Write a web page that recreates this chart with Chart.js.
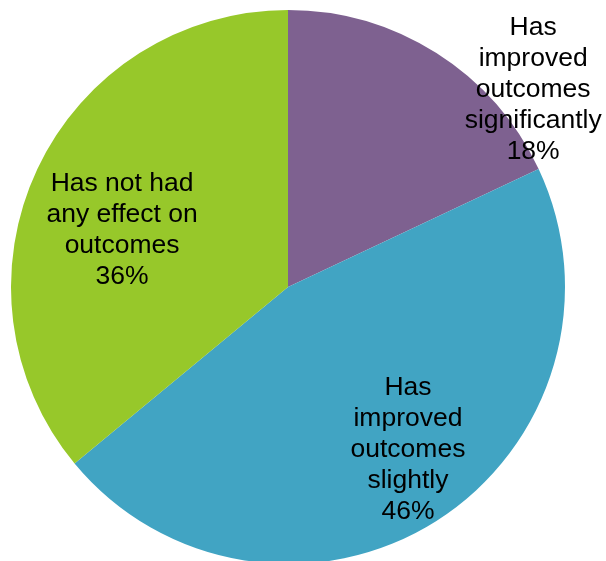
<!DOCTYPE html>
<html>
<head>
<meta charset="utf-8">
<script src="https://cdn.jsdelivr.net/npm/chart.js@4/dist/chart.umd.min.js"></script>
<style>
  html, body { margin: 0; padding: 0; background: #ffffff; overflow: hidden; width: 606px; height: 561px; }
  #wrap { position: absolute; left: 0; top: 0; width: 606px; height: 574px; }
</style>
</head>
<body>
<div id="wrap"><canvas id="chart" width="606" height="574"></canvas></div>
<script>
// Survey responses: effect on outcomes
const categories = [
  ["Has", "improved", "outcomes", "significantly"],
  ["Has", "improved", "outcomes", "slightly"],
  ["Has not had", "any effect on", "outcomes"]
];
const shares = [18, 46, 36];
const sliceColors = ["#7E6190", "#41A4C3", "#97C82A"];

// Label block centres, as fractions of the radius from the pie centre
const labelAnchors = [
  { dx: 0.885, dy: -0.711 },
  { dx: 0.433, dy: 0.588 },
  { dx: -0.599, dy: -0.206 }
];

const sliceLabels = {
  id: "sliceLabels",
  afterDatasetsDraw(chart) {
    const ctx = chart.ctx;
    const meta = chart.getDatasetMeta(0);
    const fontSize = 26.5;
    const lineH = 31;
    ctx.save();
    ctx.font = fontSize + "px 'Liberation Sans', Arial, sans-serif";
    ctx.fillStyle = "#000000";
    ctx.textAlign = "center";
    ctx.textBaseline = "middle";
    meta.data.forEach((arc, i) => {
      const r = arc.outerRadius;
      const cx = arc.x + labelAnchors[i].dx * r;
      const cy = arc.y + labelAnchors[i].dy * r;
      const lines = categories[i].concat([shares[i] + "%"]);
      const top = cy - (lines.length - 1) * lineH / 2;
      lines.forEach((t, k) => ctx.fillText(t, cx, top + k * lineH));
    });
    ctx.restore();
  }
};

new Chart(document.getElementById("chart"), {
  type: "pie",
  data: {
    labels: categories.map(c => c.join(" ")),
    datasets: [{
      data: shares,
      backgroundColor: sliceColors,
      borderWidth: 0
    }]
  },
  options: {
    responsive: false,
    animation: false,
    layout: { padding: { left: 10, right: 40, top: 10, bottom: 10 } },
    plugins: {
      legend: { display: false },
      tooltip: { enabled: false }
    }
  },
  plugins: [sliceLabels]
});
</script>
</body>
</html>
